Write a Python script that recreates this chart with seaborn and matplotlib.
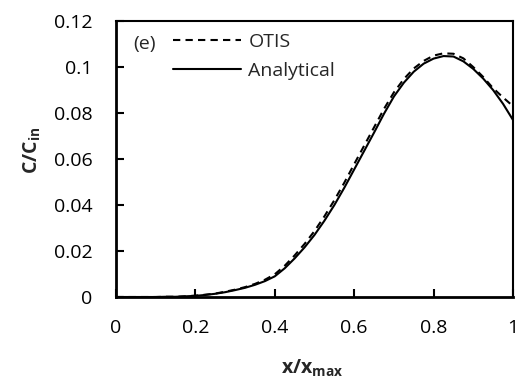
import numpy as np
import pandas as pd
import matplotlib
matplotlib.use("Agg")
import matplotlib.pyplot as plt
import seaborn as sns
from matplotlib.lines import Line2D

x_vals = [0.0, 0.025, 0.05, 0.075, 0.1, 0.125, 0.15, 0.175, 0.2, 0.225, 0.25, 0.275,
          0.3, 0.325, 0.35, 0.375, 0.4, 0.425, 0.45, 0.475, 0.5, 0.525, 0.55, 0.575,
          0.6, 0.625, 0.65, 0.675, 0.7, 0.725, 0.75, 0.775, 0.8, 0.825, 0.85, 0.875,
          0.9, 0.925, 0.95, 0.975, 1.0]
analytical = [0.0, 0.0, 0.0, 0.0, 0.0, 0.0001, 0.0001, 0.0003, 0.0005, 0.0009, 0.0014, 0.0021,
              0.0030, 0.0040, 0.0053, 0.0069, 0.0090, 0.0125, 0.0168, 0.0216, 0.0270, 0.0332,
              0.0400, 0.0475, 0.0555, 0.0635, 0.0715, 0.0797, 0.0872, 0.0932, 0.0980, 0.1015,
              0.1037, 0.1048, 0.1046, 0.1025, 0.0992, 0.0950, 0.0900, 0.0840, 0.0770]
otis = [0.0, 0.0, 0.0, 0.0, 0.0, 0.0001, 0.0001, 0.0003, 0.0006, 0.0010, 0.0015, 0.0023,
        0.0032, 0.0043, 0.0057, 0.0075, 0.0099, 0.0136, 0.0181, 0.0231, 0.0287, 0.0351,
        0.0421, 0.0497, 0.0578, 0.0658, 0.0738, 0.0818, 0.0890, 0.0948, 0.0994, 0.1027,
        0.1050, 0.1060, 0.1058, 0.1038, 0.1000, 0.0957, 0.0908, 0.0868, 0.0830]
x_ticks = [0, 0.2, 0.4, 0.6, 0.8, 1]
x_ticklabels = ["0", "0.2", "0.4", "0.6", "0.8", "1"]
y_ticks = [0, 0.02, 0.04, 0.06, 0.08, 0.1, 0.12]
y_ticklabels = ["0", "0.02", "0.04", "0.06", "0.08", "0.1", "0.12"]

sns.set_theme(style="white")
FONT = "Open Sans"
plt.rcParams["font.family"] = [FONT, "DejaVu Sans"]
plt.rcParams["mathtext.fontset"] = "custom"
plt.rcParams["mathtext.rm"] = FONT
plt.rcParams["mathtext.bf"] = FONT + ":bold"

df = pd.DataFrame({
    "x": x_vals * 2,
    "y": otis + analytical,
    "series": ["OTIS"] * len(x_vals) + ["Analytical"] * len(x_vals),
})

fig = plt.figure(figsize=(5.24, 3.91), dpi=100)
ax = fig.add_axes([0.2214, 0.2404, 0.7576, 0.7056])

sns.lineplot(data=df, x="x", y="y", hue="series", style="series",
             palette={"OTIS": "black", "Analytical": "black"},
             dashes={"OTIS": (3.5, 2.5), "Analytical": ""},
             linewidth=1.5, ax=ax, legend=False)

ax.set_xlim(0, 1)
ax.set_ylim(0, 0.12)
ax.set_xticks(x_ticks)
ax.set_xticklabels(x_ticklabels)
ax.set_yticks(y_ticks)
ax.set_yticklabels(y_ticklabels)
ax.tick_params(axis="both", direction="in", length=6, width=1.5, colors="black",
               labelsize=14, bottom=True, left=True, top=False, right=False)
ax.tick_params(axis="y", pad=17)
ax.tick_params(axis="x", pad=16)
for s in ax.spines.values():
    s.set_color("black")
    s.set_linewidth(1.5)
ax.spines["left"].set_linewidth(2)
ax.spines["bottom"].set_linewidth(2)

ax.set_xlabel(r"$\mathbf{x/x_{max}}$", fontsize=14)
ax.set_ylabel(r"$\mathbf{C/C_{in}}$", fontsize=14)
ax.xaxis.set_label_coords(0.494, -0.221)
ax.yaxis.set_label_coords(-0.184, 0.533)

handles = [Line2D([], [], color="black", lw=1.5, dashes=(3.5, 2.5)),
           Line2D([], [], color="black", lw=1.5)]
leg = ax.legend(handles, ["OTIS", "Analytical"], frameon=False, loc="upper left",
                bbox_to_anchor=(0.1, 1.02), handlelength=3.5, handletextpad=0.36,
                labelspacing=0.55, fontsize=14)
ax.text(0.043, 0.917, "(e)", transform=ax.transAxes, fontsize=14, va="center", ha="left")

fig.savefig("out.png", dpi=100)
